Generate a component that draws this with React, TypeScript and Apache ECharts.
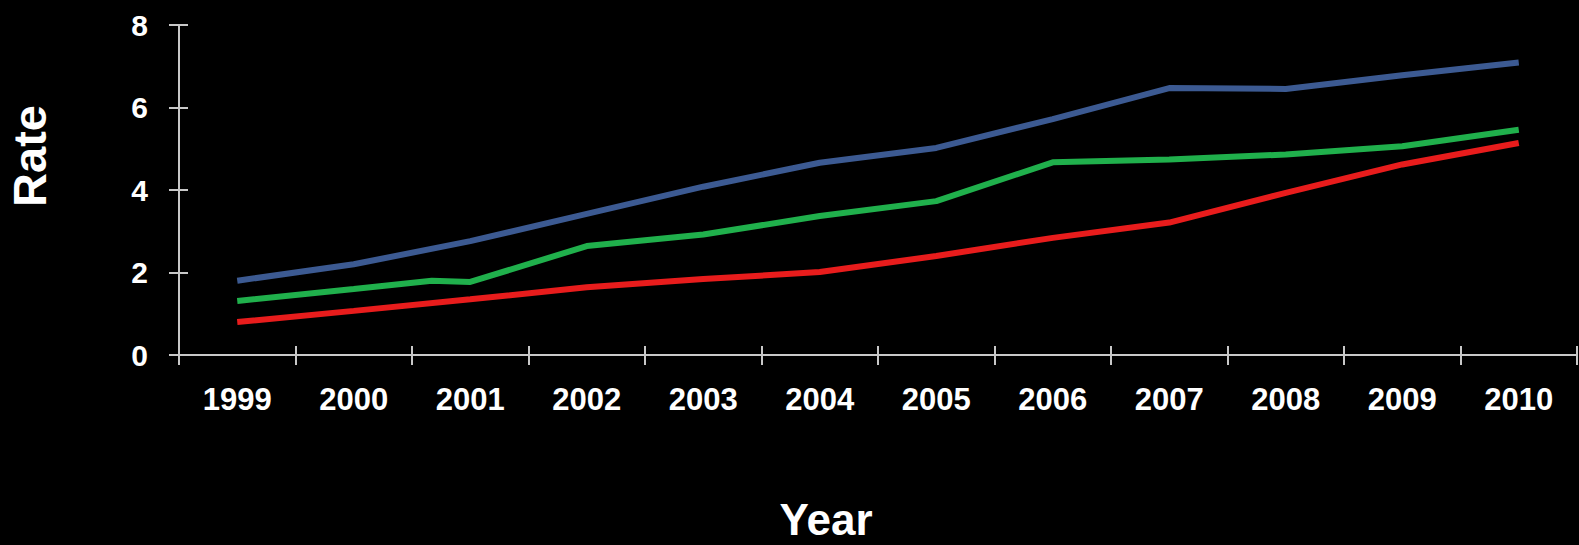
import React, { useEffect, useRef } from "react";
import * as echarts from "echarts";

const years = ["1999", "2000", "2001", "2002", "2003", "2004", "2005", "2006", "2007", "2008", "2009", "2010"];
const yTicks = [0, 2, 4, 6, 8];

// [year position, rate]
const blueData: [number, number][] = [
  [1999, 1.8], [2000, 2.2], [2001, 2.76], [2002, 3.42], [2003, 4.08], [2004, 4.66],
  [2005, 5.02], [2006, 5.72], [2007, 6.47], [2008, 6.45], [2009, 6.78], [2010, 7.09],
];
const greenData: [number, number][] = [
  [1999, 1.31], [2000, 1.6], [2000.67, 1.8], [2001, 1.77], [2002, 2.64], [2003, 2.92],
  [2004, 3.37], [2005, 3.73], [2006, 4.67], [2007, 4.74], [2008, 4.86], [2009, 5.06], [2010, 5.46],
];
const redData: [number, number][] = [
  [1999, 0.8], [2000, 1.07], [2001, 1.35], [2002, 1.64], [2003, 1.84], [2004, 2.01],
  [2005, 2.4], [2006, 2.84], [2007, 3.21], [2008, 3.93], [2009, 4.62], [2010, 5.14],
];

const AXIS = "#c8c8c8";
const FONT = "'Liberation Sans', Arial, Helvetica, sans-serif";

export default function App() {
  const ref = useRef<HTMLDivElement>(null);
  useEffect(() => {
    if (!ref.current) return;
    const chart = echarts.init(ref.current, undefined, { renderer: "svg" });
    const xMin = Number(years[0]) - 0.5;
    const xMax = Number(years[years.length - 1]) + 0.5;
    const yMin = yTicks[0];
    const yMax = yTicks[yTicks.length - 1];
    const yInt = yTicks[1] - yTicks[0];
    chart.setOption({
      animation: false,
      backgroundColor: "#000000",
      grid: { left: 179, right: 2, top: 25, bottom: 190, containLabel: false },
      xAxis: [
        {
          type: "value", position: "bottom", min: xMin, max: xMax, interval: 1,
          axisLine: { show: true, lineStyle: { color: AXIS, width: 2 } },
          axisTick: { show: true, inside: false, length: 10, lineStyle: { color: AXIS, width: 2 } },
          axisLabel: { show: false }, splitLine: { show: false },
        },
        {
          type: "value", position: "bottom", min: xMin, max: xMax, interval: 1,
          axisLine: { show: false },
          axisTick: { show: true, inside: true, length: 9, lineStyle: { color: AXIS, width: 2 } },
          axisLabel: { show: false }, splitLine: { show: false },
        },
        {
          type: "category", position: "bottom", data: years, boundaryGap: true,
          axisLine: { show: false }, axisTick: { show: false },
          axisLabel: { show: true, color: "#ffffff", fontSize: 31, fontWeight: "bold", fontFamily: FONT, margin: 29 },
          splitLine: { show: false },
        },
      ],
      yAxis: [
        {
          type: "value", position: "left", min: yMin, max: yMax, interval: yInt,
          axisLine: { show: true, lineStyle: { color: AXIS, width: 2 } },
          axisTick: { show: true, inside: false, length: 10, lineStyle: { color: AXIS, width: 2 } },
          axisLabel: { show: true, color: "#ffffff", fontSize: 30, fontWeight: "bold", fontFamily: FONT, margin: 31 },
          splitLine: { show: false },
        },
        {
          type: "value", position: "left", min: yMin, max: yMax, interval: yInt,
          axisLine: { show: false },
          axisTick: { show: true, inside: true, length: 9, lineStyle: { color: AXIS, width: 2 } },
          axisLabel: { show: false }, splitLine: { show: false },
        },
      ],
      graphic: [
        {
          type: "text", x: 29, y: 156, rotation: Math.PI / 2,
          style: { text: "Rate", fill: "#ffffff", font: `bold 47px ${FONT}`, align: "center", verticalAlign: "middle" },
        },
        {
          type: "text", x: 826, y: 519,
          style: { text: "Year", fill: "#ffffff", font: `bold 44px ${FONT}`, align: "center", verticalAlign: "middle" },
        },
      ],
      series: [
        { name: "Blue", type: "line", xAxisIndex: 0, yAxisIndex: 0, data: blueData, showSymbol: false, lineStyle: { color: "#3c5a92", width: 6 }, itemStyle: { color: "#3c5a92" } },
        { name: "Green", type: "line", xAxisIndex: 0, yAxisIndex: 0, data: greenData, showSymbol: false, lineStyle: { color: "#20b04c", width: 6 }, itemStyle: { color: "#20b04c" } },
        { name: "Red", type: "line", xAxisIndex: 0, yAxisIndex: 0, data: redData, showSymbol: false, lineStyle: { color: "#e81c1c", width: 6 }, itemStyle: { color: "#e81c1c" } },
      ],
    });
    return () => chart.dispose();
  }, []);
  return (
    <div
      ref={ref}
      style={{ position: "fixed", left: 0, top: 0, width: 1579, height: 545, background: "#000" }}
    />
  );
}
